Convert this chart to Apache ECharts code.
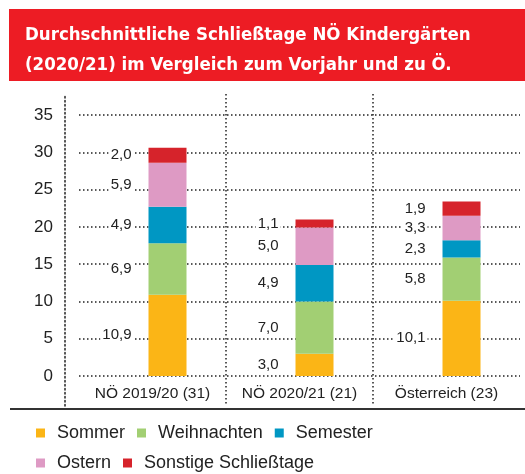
<!DOCTYPE html>
<html lang="de">
<head>
<meta charset="UTF-8">
<title>Schließtage</title>
<script src="https://cdn.jsdelivr.net/npm/echarts@6/dist/echarts.min.js"></script>
<style>
  html, body { margin: 0; padding: 0; background: #fff; }
  #main { width: 525px; height: 474px; }
</style>
</head>
<body>
<div id="main"></div>
<script>
// Kategorien und Werte (Tage)
const categories = ["NÖ 2019/20 (31)", "NÖ 2020/21 (21)", "Österreich (23)"];
const sommer = [10.9, 3.0, 10.1];
const weihnachten = [6.9, 7.0, 5.8];
const semester = [4.9, 4.9, 2.3];
const ostern = [5.9, 5.0, 3.3];
const sonstige = [2.0, 1.1, 1.9];
const yTicks = [0, 5, 10, 15, 20, 25, 30, 35];

const seriesNames = ["Sommer", "Weihnachten", "Semester", "Ostern", "Sonstige Schließtage"];
const seriesData = [sommer, weihnachten, semester, ostern, sonstige];
const colors = ["#FBB516", "#A2CF73", "#0097C3", "#DE9AC4", "#D6232B"];

const font = "Liberation Sans, Arial, sans-serif";
const dotted = { color: "#222", width: 1.5, type: [1.5, 2.5] };

const myChart = echarts.init(document.getElementById("main"));

// unsichtbarer Platzhalter schiebt die Säulen etwas nach rechts
const series = [{
    name: "spacer",
    type: "bar",
    xAxisIndex: 0, yAxisIndex: 0,
    stack: "spacer",
    data: categories.map(() => 0),
    barWidth: 38,
    barGap: "-21%",
    itemStyle: { color: "rgba(0,0,0,0)" },
    silent: true
}];

seriesNames.forEach((name, i) => {
    series.push({
        name: name,
        type: "bar",
        xAxisIndex: 0, yAxisIndex: 0,
        stack: "total",
        data: seriesData[i],
        barWidth: 38,
        barGap: "-21%",
        itemStyle: { color: colors[i] },
        label: {
            show: true,
            position: "left",
            distance: 15,
            color: "#222",
            fontSize: 15,
            fontFamily: font,
            backgroundColor: "#fff",
            padding: [0, 2],
            formatter: p => p.value.toFixed(1).replace(".", ",")
        }
    });
});

const options = {
    animation: false,
    textStyle: { fontFamily: font },
    title: {
        text: "Durchschnittliche Schließtage NÖ Kindergärten\n(2020/21) im Vergleich zum Vorjahr und zu Ö.",
        left: 20,
        top: 15,
        textStyle: {
            color: "#fff",
            fontSize: 18.5,
            fontWeight: "bold",
            lineHeight: 30,
            fontFamily: "Liberation Sans Narrow, DejaVu Sans Condensed, sans-serif"
        }
    },
    graphic: [
        { type: "rect", z: -1, shape: { x: 9, y: 9, width: 516, height: 72 }, style: { fill: "#ED1C24" } },
        { type: "line", shape: { x1: 10, y1: 409, x2: 525, y2: 409 }, style: { stroke: "#333", lineWidth: 2 } }
    ],
    legend: [
        {
            data: seriesNames.slice(0, 3),
            left: 36, top: 424, padding: 0,
            icon: "rect", itemWidth: 9, itemHeight: 9, itemGap: 12,
            selectedMode: false,
            textStyle: { fontSize: 18, color: "#222", padding: [0, 0, 0, 7] }
        },
        {
            data: seriesNames.slice(3),
            left: 36, top: 454, padding: 0,
            icon: "rect", itemWidth: 9, itemHeight: 9, itemGap: 12,
            selectedMode: false,
            textStyle: { fontSize: 18, color: "#222", padding: [0, 0, 0, 7] }
        }
    ],
    grid: [
        { left: 79, right: 5, top: 115, bottom: 98 },
        { left: 79, right: 5, top: 94, bottom: 68 }
    ],
    xAxis: [
        {
            type: "category", gridIndex: 0, data: categories,
            axisLine: { show: false }, axisTick: { show: false },
            axisLabel: { color: "#222", fontSize: 15.5, margin: 10, interval: 0 }
        },
        {
            type: "category", gridIndex: 1, data: categories,
            axisLine: { show: false }, axisTick: { show: false }, axisLabel: { show: false },
            splitLine: { show: true, showMinLine: false, showMaxLine: false, lineStyle: dotted }
        }
    ],
    yAxis: [
        {
            type: "value", gridIndex: 0,
            min: yTicks[0], max: yTicks[yTicks.length - 1], interval: 5,
            axisLine: { show: false }, axisTick: { show: false },
            axisLabel: { color: "#222", fontSize: 17, margin: 26 },
            splitLine: { show: true, lineStyle: dotted }
        },
        {
            type: "value", gridIndex: 1, offset: 14,
            axisLine: { show: true, lineStyle: dotted },
            axisTick: { show: false }, axisLabel: { show: false },
            splitLine: { show: false }
        }
    ],
    series: series
};

myChart.setOption(options);
</script>
</body>
</html>
